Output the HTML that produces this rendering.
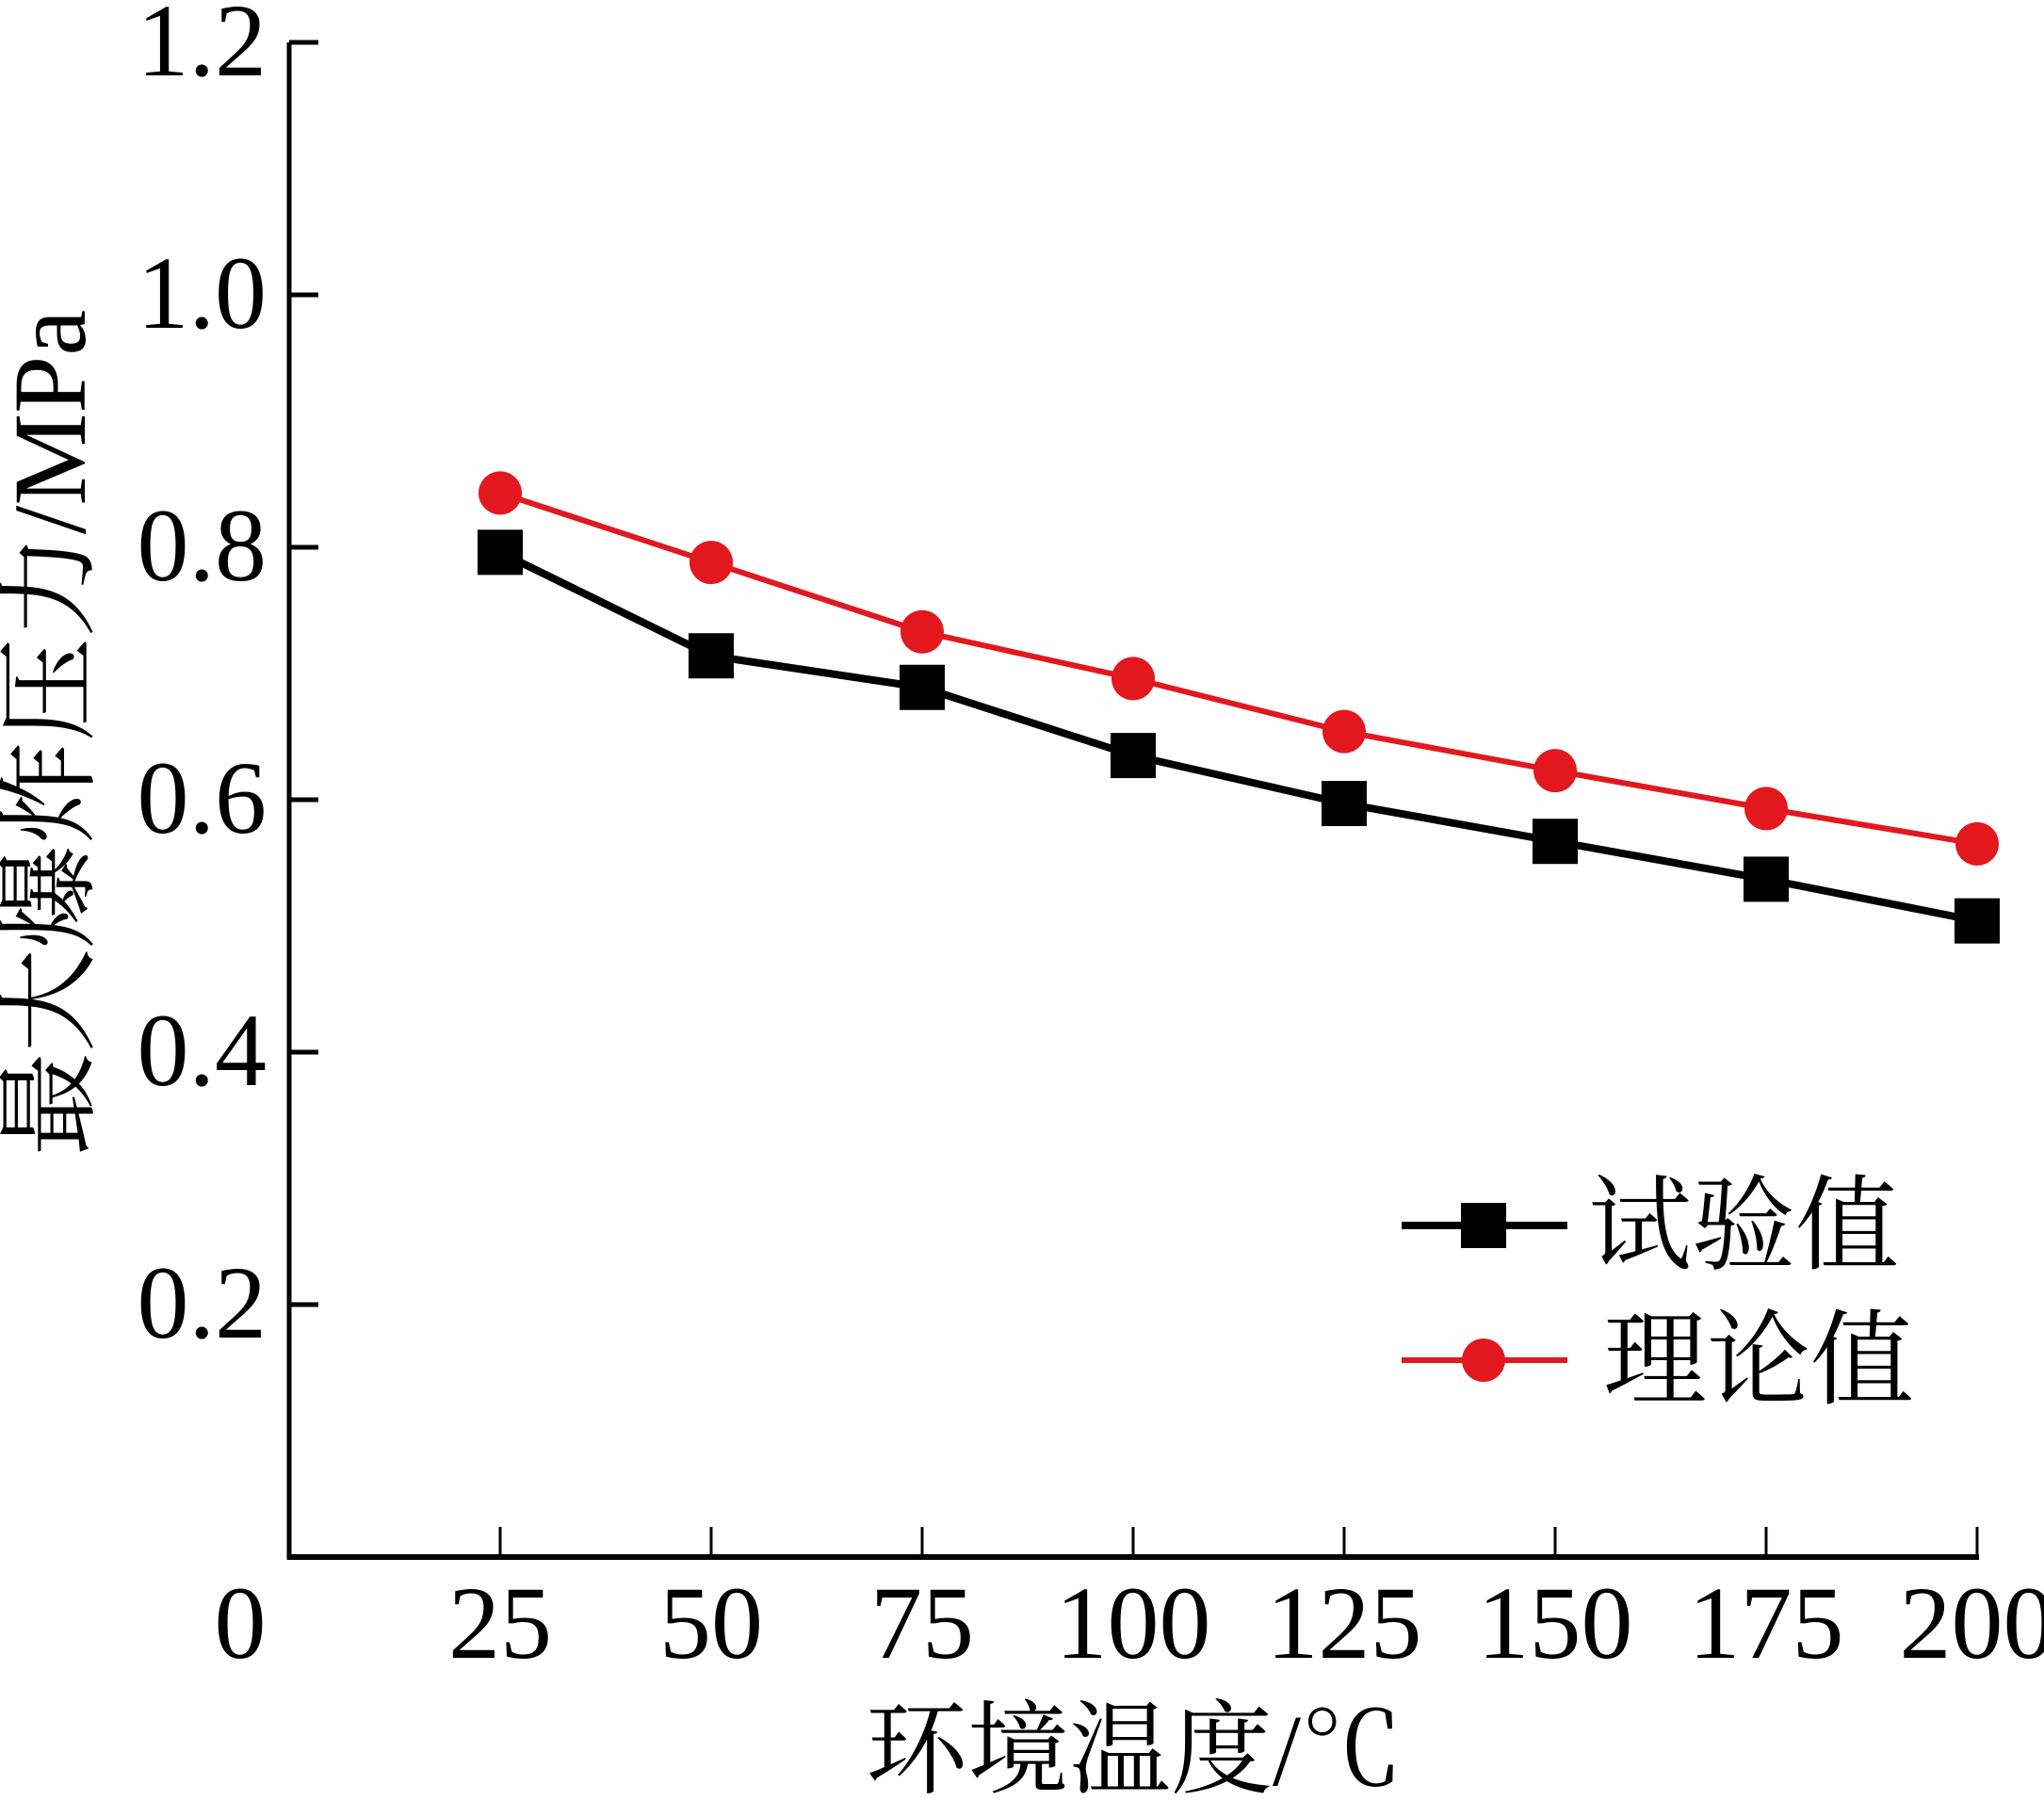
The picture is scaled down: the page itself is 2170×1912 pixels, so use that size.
<!DOCTYPE html>
<html><head><meta charset="utf-8"><style>
html,body{margin:0;padding:0;background:#fff;}
svg{display:block;}
text{font-family:"Liberation Serif","Noto Serif CJK SC","Noto Sans CJK SC",serif;fill:#000;}
</style></head><body>
<svg id="chart" width="2170" height="1912" viewBox="0 0 2170 1912" xmlns="http://www.w3.org/2000/svg">
<g id="axes"></g>
<g id="series"></g>
<g id="legend"></g>
</svg>
<script>
const categories = [25, 50, 75, 100, 125, 150, 175, 200];
const testValues = [0.796, 0.714, 0.689, 0.635, 0.597, 0.567, 0.537, 0.504];
const theoryValues = [0.843, 0.788, 0.733, 0.696, 0.654, 0.623, 0.593, 0.565];
const xTicks = [0, 25, 50, 75, 100, 125, 150, 175, 200];
const yTicks = [0.2, 0.4, 0.6, 0.8, 1.0, 1.2];
const yTickLabels = ["0.2", "0.4", "0.6", "0.8", "1.0", "1.2"];

const NS = "http://www.w3.org/2000/svg";
const X0 = 307, X1 = 2099, Y0 = 1653, Y1 = 45;
function xs(v){ return X0 + (v / 200) * (X1 - X0); }
function ys(v){ return Y0 - (v / 1.2) * (Y0 - Y1); }
function mk(tag, attrs, parent){
  const e = document.createElementNS(NS, tag);
  for (const k in attrs) e.setAttribute(k, attrs[k]);
  parent.appendChild(e);
  return e;
}
const axes = document.getElementById('axes');
const series = document.getElementById('series');
const legend = document.getElementById('legend');

let el = mk('line', {x1:X0, y1:Y0, x2:X0, y2:Y1, stroke:'#000', 'stroke-width':5}, axes);


el = mk('line', {x1:X0-2.5, y1:Y0, x2:X1+2, y2:Y0, stroke:'#000', 'stroke-width':6}, axes);



yTicks.forEach((t, i) => {
  const y = ys(t);
  let tk = mk('line', {x1:X0, y1:y, x2:X0+31, y2:y, stroke:'#000', 'stroke-width':5}, axes);
  
  
  let lb = mk('text', {x:283, y:y+35, 'font-size':110, 'text-anchor':'end'}, axes);
  lb.textContent = yTickLabels[i];
  
  
});
xTicks.forEach((t) => {
  const x = xs(t);
  if (t > 0) {
    let tk = mk('line', {x1:x, y1:Y0, x2:x, y2:Y0-32, stroke:'#000', 'stroke-width':3}, axes);
    
    
  }
  let lb = mk('text', {x: t === 0 ? 255 : x, y:1760, 'font-size':110, 'text-anchor':'middle'}, axes);
  lb.textContent = String(t);
  
  
});
let xt = mk('text', {x:1204, y:1895, 'font-size':108, 'text-anchor':'middle'}, axes);
xt.textContent = '环境温度/℃';


let yt = mk('text', {x:0, y:0, 'font-size':110, 'text-anchor':'middle', transform:'translate(90,778) rotate(-90)'}, axes);
yt.textContent = '最大爆炸压力/MPa';



function drawSeries(vals, color, width, shape, name){
  const pts = categories.map((c, i) => xs(c) + ',' + ys(vals[i])).join(' ');
  let pl = mk('polyline', {points:pts, fill:'none', stroke:color, 'stroke-width':width, 'stroke-linejoin':'round'}, series);
  
  
  categories.forEach((c, i) => {
    const x = xs(c), y = ys(vals[i]);
    let m;
    if (shape === 'square') m = mk('rect', {x:x-24, y:y-24, width:48, height:48, fill:color}, series);
    else m = mk('circle', {cx:x, cy:y, r:23, fill:color}, series);
    
    
  });
}
drawSeries(theoryValues, '#e3171e', 6, 'circle', 'theory');
drawSeries(testValues, '#000', 8, 'square', 'test');

function legendEntry(y, color, width, shape, label, tx, name){
  const g = mk('g', {}, legend);
  
  
  mk('line', {x1:1488, y1:y, x2:1664, y2:y, stroke:color, 'stroke-width':width}, g);
  if (shape === 'square') mk('rect', {x:1575-24, y:y-24, width:48, height:48, fill:color}, g);
  else mk('circle', {cx:1575, cy:y, r:23, fill:color}, g);
  const t = mk('text', {x:tx, y:y+38, 'font-size':110}, g);
  t.textContent = label;
}
legendEntry(1301, '#000', 8, 'square', '试验值', 1686, 'legend-entry-test');
legendEntry(1444, '#e3171e', 6, 'circle', '理论值', 1702, 'legend-entry-theory');
</script>
</body></html>
